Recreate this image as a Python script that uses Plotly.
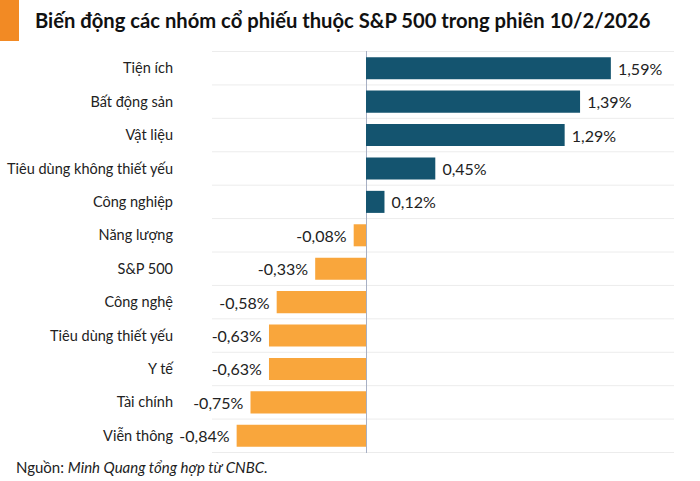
import plotly.graph_objects as go

categories = ["Tiện ích", "Bất động sản", "Vật liệu", "Tiêu dùng không thiết yếu",
              "Công nghiệp", "Năng lượng", "S&P 500", "Công nghệ",
              "Tiêu dùng thiết yếu", "Y tế", "Tài chính", "Viễn thông"]
values = [1.59, 1.39, 1.29, 0.45, 0.12, -0.08, -0.33, -0.58, -0.63, -0.63, -0.75, -0.84]

POS = "#14546f"
NEG = "#f9a63c"
colors = [POS if v >= 0 else NEG for v in values]
labels = [(" " + f"{v:.2f}%" if v >= 0 else f"{v:.2f}%" + " ").replace(".", ",") for v in values]

fig = go.Figure(go.Bar(
    x=values, y=categories, orientation="h",
    marker=dict(color=colors, line=dict(width=0)),
    text=labels, textposition="outside", cliponaxis=False, constraintext="none",
    textfont=dict(family="Lato", size=16, color="#222222"),
    hoverinfo="skip",
))

shapes = []
for i in range(len(categories) + 1):
    shapes.append(dict(type="line", xref="paper", x0=0, x1=1, yref="y",
                       y0=i - 0.5, y1=i - 0.5, line=dict(color="#ececec", width=1),
                       layer="below"))
shapes.append(dict(type="rect", xref="paper", yref="paper", x0=-212/462, x1=(19-212)/462,
                   y0=1 + 51/402, y1=1 + 10/402, fillcolor="#f28a24", line=dict(width=0)))
fig.update_layout(
    width=700, height=481,
    margin=dict(l=212, r=26, t=51, b=28, autoexpand=False),
    paper_bgcolor="white", plot_bgcolor="white",
    bargap=0.34,
    showlegend=False,
    xaxis=dict(range=[-1, 2], showgrid=False, showticklabels=False, zeroline=True,
               zerolinecolor="#a7b0c4", zerolinewidth=1, fixedrange=True, automargin=False),
    yaxis=dict(autorange="reversed", showgrid=False, ticks="", ticklabelstandoff=38,
               automargin=False,
               tickfont=dict(family="Lato", size=14.5, color="#222222"), fixedrange=True),
    shapes=shapes,
    annotations=[
        dict(text="<b>Biến động các nhóm cổ phiếu thuộc S&P 500 trong phiên 10/2/2026</b>",
             xref="paper", yref="paper", x=(33-212)/462, y=1 + 31/402, xanchor="left", yanchor="middle",
             showarrow=False, font=dict(family="Lato", size=20.2, color="#111111")),
        dict(text="Nguồn: <i>Minh Quang tổng hợp từ CNBC.</i>",
             xref="paper", yref="paper", x=(14-212)/462, y=-14/402, xanchor="left", yanchor="middle",
             showarrow=False, font=dict(family="Lato", size=15, color="#222222")),
    ],
)

fig.write_html("out.html", config={"displayModeBar": False},
               post_script="document.body.style.margin='0px';")
